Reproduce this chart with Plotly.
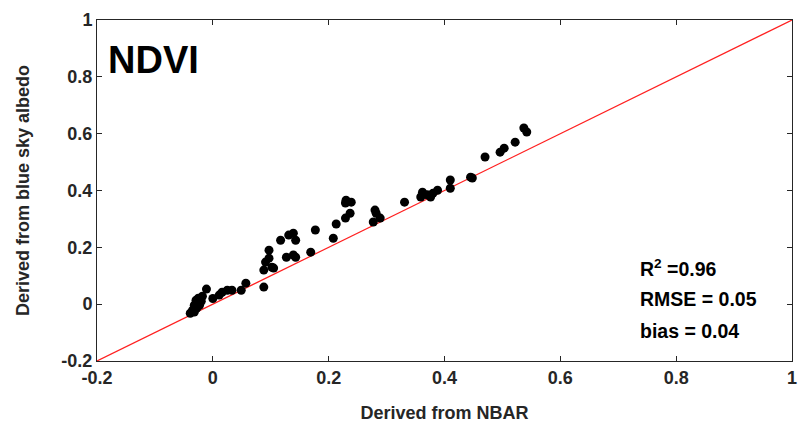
import plotly.graph_objects as go

nbar = [-0.039, -0.035, -0.032, -0.029, -0.025, -0.023, -0.018, -0.011, -0.032, -0.028,
        0.011, 0.016, 0.025, 0.033, 0.049, 0.057, 0.088, 0.088, 0.091, 0.097, 0.097,
        0.102, 0.105, 0.127, 0.139, 0.117, 0.131, 0.139, 0.143, 0.143, 0.169, 0.177,
        0.208, 0.213, 0.229, 0.229, 0.230, 0.239, 0.237, 0.280, 0.282, 0.277, 0.289,
        0.331, 0.362, 0.359, 0.376, 0.388, 0.370, 0.380, 0.410, 0.410, 0.448, 0.445,
        0.470, 0.496, 0.503, 0.522, 0.537, 0.542, -0.020, 0.000]
blue_sky = [-0.032, -0.021, -0.004, 0.014, 0.021, -0.004, 0.028, 0.053, -0.028, -0.015,
            0.032, 0.042, 0.049, 0.049, 0.049, 0.074, 0.060, 0.120, 0.148, 0.162, 0.190,
            0.130, 0.127, 0.165, 0.173, 0.225, 0.243, 0.250, 0.225, 0.165, 0.183, 0.261,
            0.232, 0.282, 0.303, 0.356, 0.366, 0.359, 0.320, 0.331, 0.320, 0.289, 0.303,
            0.359, 0.394, 0.377, 0.377, 0.401, 0.385, 0.390, 0.437, 0.408, 0.444, 0.447,
            0.518, 0.535, 0.549, 0.570, 0.620, 0.606, 0.010, 0.020]

line_xy = [-0.2, 1.0]
x_ticks = [-0.2, 0, 0.2, 0.4, 0.6, 0.8, 1]
x_tick_text = ["-0.2", "0", "0.2", "0.4", "0.6", "0.8", "1"]
y_ticks = [-0.2, 0, 0.2, 0.4, 0.6, 0.8, 1]
y_tick_text = ["-0.2", "0", "0.2", "0.4", "0.6", "0.8", "1"]

font_fam = "Liberation Sans, Arial, sans-serif"
dark = "#262626"

fig = go.Figure()
fig.add_trace(go.Scatter(x=line_xy, y=line_xy, mode="lines",
                         line=dict(color="#ff2020", width=1.2), showlegend=False))
fig.add_trace(go.Scatter(x=nbar, y=blue_sky, mode="markers",
                         marker=dict(color="black", size=9, line=dict(width=0)),
                         showlegend=False))

axis_common = dict(showline=True, linecolor=dark, linewidth=1, mirror="ticks",
                   ticks="inside", ticklen=5, tickcolor=dark, showgrid=False,
                   zeroline=False, ticklabeloverflow="allow",
                   tickfont=dict(family=font_fam, size=18, color=dark))

fig.update_xaxes(range=[-0.2, 1], tickvals=x_ticks,
                 ticktext=["<b>%s</b>" % t for t in x_tick_text],
                 title=dict(text="<b>Derived from NBAR</b>", standoff=19,
                            font=dict(family=font_fam, size=18, color=dark)),
                 **axis_common)
fig.update_yaxes(range=[-0.2, 1], tickvals=y_ticks,
                 ticktext=["<b>%s</b>" % t for t in y_tick_text],
                 title=dict(text="<b>Derived from blue sky albedo</b>", standoff=27,
                            font=dict(family=font_fam, size=18, color=dark)),
                 **axis_common)

fig.add_annotation(x=0.013, y=0.883, xref="paper", yref="paper", xanchor="left", yanchor="middle",
                   text="<b>NDVI</b>", showarrow=False,
                   font=dict(family=font_fam, size=38, color="black"))
stats = ["<b>R<sup>2</sup> =0.96</b>", "<b>RMSE = 0.05</b>", "<b>bias = 0.04</b>"]
stat_y = [0.273, 0.182, 0.088]
for t, yy in zip(stats, stat_y):
    fig.add_annotation(x=0.778, y=yy, xref="paper", yref="paper", xanchor="left", yanchor="middle",
                       text=t, showarrow=False,
                       font=dict(family=font_fam, size=19.5, color="black"))

fig.update_layout(width=802, height=434, margin=dict(l=97, r=5, t=20, b=73),
                  plot_bgcolor="white", paper_bgcolor="white",
                  font=dict(family=font_fam, color=dark))

fig.write_html("out.html")
